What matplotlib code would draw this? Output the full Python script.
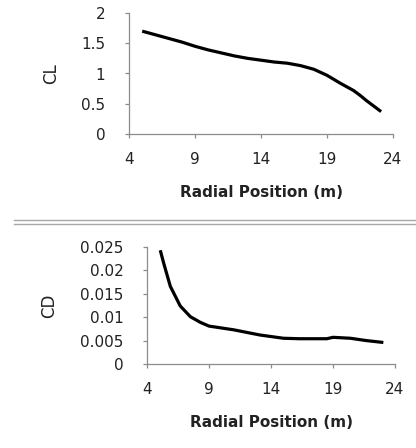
#! /usr/bin/env python3

""" Lift and drag coefficient along the blade span.
"""

from matplotlib import pyplot as plt
from matplotlib.lines import Line2D

# lift coefficient
cl_pos = [5.0, 6, 7, 8, 9, 10, 11, 12, 13, 14, 15, 16, 17, 18, 19, 20, 21, 21.5, 22, 23.1]
cl_val = [1.70, 1.64, 1.58, 1.52, 1.45, 1.39, 1.34, 1.29, 1.25, 1.22, 1.19, 1.17, 1.13,
          1.07, 0.97, 0.84, 0.72, 0.64, 0.55, 0.37]

# drag coefficient
cd_pos = [5.07, 5.34, 5.88, 6.68, 7.5, 8.3, 9.0, 11.0, 13.1, 15.0, 16.3, 18.5, 19.0,
          20.4, 21.7, 23.06]
cd_val = [0.0243, 0.0216, 0.0166, 0.0124, 0.0101, 0.0089, 0.0081, 0.0073, 0.0062,
          0.0055, 0.0054, 0.0054, 0.0057, 0.0055, 0.0050, 0.0046]

x_ticks = [4, 9, 14, 19, 24]
cl_ticks = [0, 0.5, 1, 1.5, 2]
cl_labels = ["0", "0.5", "1", "1.5", "2"]
cd_ticks = [0, 0.005, 0.01, 0.015, 0.02, 0.025]
cd_labels = ["0", "0.005", "0.01", "0.015", "0.02", "0.025"]

plt.rcParams["font.family"] = ["DejaVu Sans"]

W, H = 416, 448
fig = plt.figure(figsize=(W / 100, H / 100), dpi=100)


def px_axes(left, top, right, bottom):
    return fig.add_axes([left / W, 1 - bottom / H, (right - left) / W, (bottom - top) / H])


def style(ax, yticks, ylabels, ylabel, label_x):
    ax.set_xlim(4, 24)
    ax.set_xticks(x_ticks)
    ax.set_xticklabels([str(t) for t in x_ticks])
    ax.set_yticks(yticks)
    ax.set_yticklabels(ylabels)
    ax.set_ylim(yticks[0], yticks[-1])
    for s in ("top", "right"):
        ax.spines[s].set_visible(False)
    for s in ("left", "bottom"):
        ax.spines[s].set_color("#8c8c8c")
        ax.spines[s].set_linewidth(0.9)
    ax.tick_params(direction="out", length=3, width=0.9, color="#8c8c8c",
                   labelsize=11, labelcolor="#222222")
    ax.tick_params(axis="x", pad=10)
    ax.tick_params(axis="y", pad=14)
    ax.set_xlabel("Radial Position (m)", fontsize=11, fontweight="bold",
                  color="#222222", labelpad=13)
    ax.set_ylabel(ylabel, fontsize=12, color="#222222")
    ax.yaxis.set_label_coords(label_x, 0.5)


# top chart: CL
ax1 = px_axes(129, 13, 393, 134)
ax1.plot(cl_pos, cl_val, color="black", lw=2.3, solid_capstyle="butt")
style(ax1, cl_ticks, cl_labels, "CL", -0.26)

# bottom chart: CD
ax2 = px_axes(147, 247, 395, 364)
ax2.plot(cd_pos, cd_val, color="black", lw=2.3, solid_capstyle="butt")
style(ax2, cd_ticks, cd_labels, "CD", -0.36)

# double separator line between the two charts
for y in (220.5, 224.5):
    fig.add_artist(Line2D([14 / W, 1], [1 - y / H, 1 - y / H],
                          transform=fig.transFigure, color="#a8a8a8", lw=1.0))

fig.savefig("out.png", dpi=100)
